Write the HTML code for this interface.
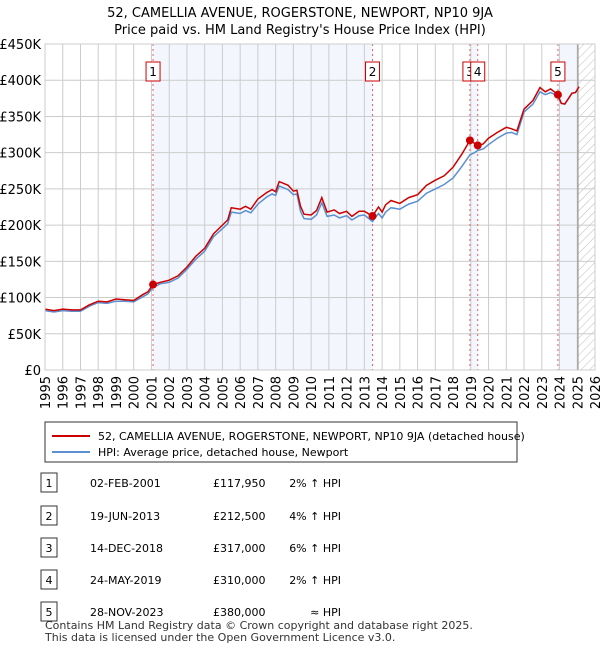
<!DOCTYPE html>
<html><head><meta charset="utf-8"><style>
body{margin:0;background:#fff;font-family:"Liberation Sans","DejaVu Sans",sans-serif;}
svg text{font-family:"DejaVu Sans","Liberation Sans",sans-serif;}
</style></head><body>
<svg id="chart" width="600" height="650" viewBox="0 0 600 650" xmlns="http://www.w3.org/2000/svg">
<defs><pattern id="hatch" width="6" height="6" patternUnits="userSpaceOnUse" patternTransform="rotate(45)"><line x1="0" y1="0" x2="0" y2="6" stroke="#bbb" stroke-width="1"/></pattern></defs>
<text x="300" y="17" text-anchor="middle" font-size="13">52, CAMELLIA AVENUE, ROGERSTONE, NEWPORT, NP10 9JA</text>
<text x="300" y="34" text-anchor="middle" font-size="13">Price paid vs. HM Land Registry's House Price Index (HPI)</text>
<g id="bands"></g><g id="grid"></g><g id="vlines"></g><g id="series"></g><g id="axes"></g>
<g>
<rect x="45" y="422" width="472" height="40" fill="#fff" stroke="#333" stroke-width="1"/>
<line x1="52" y1="436" x2="90" y2="436" stroke="#cc0000" stroke-width="2"/>
<text x="98" y="440" font-size="11">52, CAMELLIA AVENUE, ROGERSTONE, NEWPORT, NP10 9JA (detached house)</text>
<line x1="52" y1="452" x2="90" y2="452" stroke="#5b8fd0" stroke-width="2"/>
<text x="98" y="456" font-size="11">HPI: Average price, detached house, Newport</text>
</g>
<g id="table" font-size="11"></g>
<text x="45" y="629" font-size="11" fill="#333">Contains HM Land Registry data © Crown copyright and database right 2025.</text>
<text x="45" y="641" font-size="11" fill="#333">This data is licensed under the Open Government Licence v3.0.</text>
</svg>
<script>
const NS="http://www.w3.org/2000/svg";
const yTicks=[0,50,100,150,200,250,300,350,400,450];
const yTickLabels=["£0","£50K","£100K","£150K","£200K","£250K","£300K","£350K","£400K","£450K"];
const xYears=[1995,1996,1997,1998,1999,2000,2001,2002,2003,2004,2005,2006,2007,2008,2009,2010,2011,2012,2013,2014,2015,2016,2017,2018,2019,2020,2021,2022,2023,2024,2025,2026];
const saleDates=[2001.09,2013.46,2018.95,2019.39,2023.91];
const salePrices=[117.95,212.5,317,310,380];
const saleLabels=["1","2","3","4","5"];
const saleDateText=["02-FEB-2001","19-JUN-2013","14-DEC-2018","24-MAY-2019","28-NOV-2023"];
const salePriceText=["£117,950","£212,500","£317,000","£310,000","£380,000"];
const saleHpiText=["2% ↑ HPI","4% ↑ HPI","6% ↑ HPI","2% ↑ HPI","≈ HPI"];
const propYears=[1995,1995.5,1996,1996.5,1997,1997.5,1998,1998.5,1999,1999.5,2000,2000.5,2000.8,2001.09,2001.5,2002,2002.5,2003,2003.5,2004,2004.5,2005,2005.3,2005.5,2006,2006.3,2006.6,2007,2007.5,2007.8,2008,2008.2,2008.7,2009,2009.2,2009.4,2009.6,2010,2010.3,2010.6,2010.9,2011.3,2011.6,2012,2012.3,2012.7,2013,2013.46,2013.8,2014,2014.2,2014.5,2015,2015.5,2016,2016.5,2017,2017.5,2018,2018.5,2018.95,2019.2,2019.39,2019.7,2020,2020.5,2021,2021.3,2021.6,2022,2022.5,2022.9,2023.2,2023.5,2023.91,2024.1,2024.3,2024.7,2024.9,2025.1];
const propValues=[84,82,84,83,83,90,95,94,98,97,96,104,108,118,121,124,130,142,157,168,188,200,207,224,222,226,222,236,245,249,246,260,255,247,248,226,215,214,220,238,218,221,216,219,212,219,219,212.5,225,218,228,234,230,238,242,255,262,268,280,298,317,313,310,312,320,328,335,333,330,360,372,390,384,388,380,368,367,382,383,391];
const hpiYears=[1995,1995.5,1996,1996.5,1997,1997.5,1998,1998.5,1999,1999.5,2000,2000.5,2000.8,2001.09,2001.5,2002,2002.5,2003,2003.5,2004,2004.5,2005,2005.3,2005.5,2006,2006.3,2006.6,2007,2007.5,2007.8,2008,2008.2,2008.7,2009,2009.2,2009.4,2009.6,2010,2010.3,2010.6,2010.9,2011.3,2011.6,2012,2012.3,2012.7,2013,2013.46,2013.8,2014,2014.2,2014.5,2015,2015.5,2016,2016.5,2017,2017.5,2018,2018.5,2018.95,2019.2,2019.39,2019.7,2020,2020.5,2021,2021.3,2021.6,2022,2022.5,2022.9,2023.2,2023.5,2023.91,2024.1,2024.3,2024.7,2024.9,2025.1];
const hpiValues=[82,80,82,81,81,88,93,92,95,95,94,101,105,114,119,121,127,139,153,164,184,195,202,218,216,220,217,229,239,243,241,254,249,242,243,219,209,208,214,231,212,214,210,213,207,213,214,205,216,210,218,224,222,229,233,244,250,256,265,281,297,300,303,305,311,320,327,328,325,356,367,384,380,383,378,368,367,382,383,391];
const L=45,R=595,T=44,B=370,Y0=1995,Y1=2026,VMAX=450;
const xs=y=>L+(y-Y0)*(R-L)/(Y1-Y0);
const ys=v=>B-v*(B-T)/VMAX;
function mk(tag,attrs,parent,text){const e=document.createElementNS(NS,tag);for(const k in attrs)e.setAttribute(k,attrs[k]);if(text!==undefined)e.textContent=text;parent.appendChild(e);return e;}
const bands=document.getElementById('bands');
const shade=[[saleDates[0],saleDates[1]],[saleDates[2],saleDates[3]],[saleDates[4],2025.04]];
shade.forEach(s=>{const r=mk('rect',{x:xs(s[0]),y:T,width:xs(s[1])-xs(s[0]),height:B-T,fill:'#f3f6fd'},bands);

});
const h=mk('rect',{x:xs(2025.04),y:T,width:R-xs(2025.04),height:B-T,fill:'url(#hatch)'},bands);


const grid=document.getElementById('grid');
yTicks.forEach((v,i)=>{mk('line',{x1:L,x2:R,y1:ys(v),y2:ys(v),stroke:'#ccc','stroke-width':1},grid);
const t=mk('text',{x:L-4,y:ys(v)+5,'text-anchor':'end','font-size':13},grid,yTickLabels[i]);

});
xYears.forEach(y=>{mk('line',{x1:xs(y),x2:xs(y),y1:T,y2:B,stroke:'#ccc','stroke-width':1},grid);
const t=mk('text',{x:0,y:0,'text-anchor':'end','font-size':13,transform:`translate(${xs(y)+5},${B+6}) rotate(-90)`},grid,String(y));

});
mk('line',{x1:xs(2025.04),x2:xs(2025.04),y1:T,y2:B,stroke:'#888','stroke-width':1},grid);
const vl=document.getElementById('vlines');
saleDates.forEach((d,i)=>{const l=mk('line',{x1:xs(d),x2:xs(d),y1:T,y2:B,stroke:'#e06060','stroke-width':1,'stroke-dasharray':'2,3'},vl);


const g=mk('g',{},vl);


mk('rect',{x:xs(d)-7,y:62,width:14,height:19,fill:'#fff',stroke:'#cc0000','stroke-width':1},g);
mk('text',{x:xs(d),y:76,'text-anchor':'middle','font-size':12},g,saleLabels[i]);});
const ser=document.getElementById('series');
function path(xa,va){return xa.map((y,i)=>(i?'L':'M')+xs(y).toFixed(1)+','+ys(va[i]).toFixed(1)).join('');}
const hp=mk('path',{d:path(hpiYears,hpiValues),fill:'none',stroke:'#5b8fd0','stroke-width':1.5},ser);


const pp=mk('path',{d:path(propYears,propValues),fill:'none',stroke:'#cc0000','stroke-width':1.5},ser);


saleDates.forEach((d,i)=>{const c=mk('circle',{cx:xs(d),cy:ys(salePrices[i]),r:4,fill:'#cc0000'},ser);

});
mk('rect',{x:L,y:T,width:R-L,height:B-T,fill:'none',stroke:'#ccc'},document.getElementById('axes'));
const tb=document.getElementById('table');
const rowY=[483,516,548,580,612];
saleDates.forEach((d,i)=>{const g=mk('g',{},tb);


mk('rect',{x:41,y:rowY[i]-10,width:16,height:19,fill:'#fff',stroke:'#333'},g);
mk('text',{x:49,y:rowY[i]+4,'text-anchor':'middle'},g,saleLabels[i]);
mk('text',{x:90,y:rowY[i]+4},g,saleDateText[i]);
mk('text',{x:213,y:rowY[i]+4},g,salePriceText[i]);
mk('text',{x:341,y:rowY[i]+4,'text-anchor':'end'},g,saleHpiText[i]);});
</script>
</body></html>
